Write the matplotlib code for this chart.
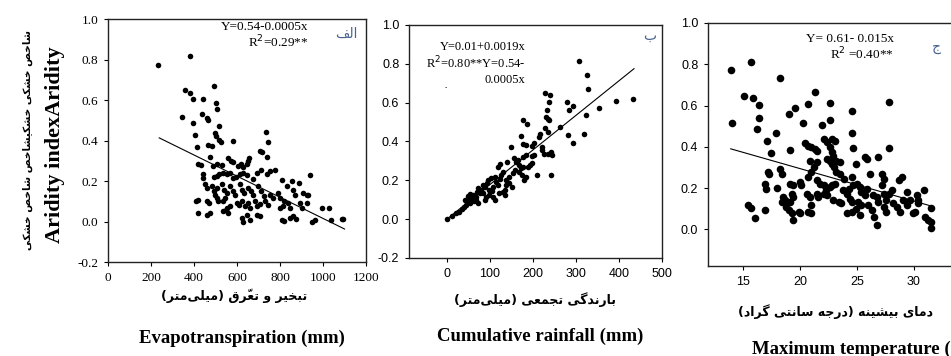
import matplotlib
matplotlib.use("Agg")
import matplotlib.pyplot as plt

# --- data ---
# panel الف : evapotranspiration (mm) vs aridity index
et_x = [234, 381, 358, 381, 397, 443, 343, 394, 436, 462, 467, 495, 504, 508, 496, 518, 403, 415,
        467, 482, 502, 518, 524, 583, 420, 431, 474, 490, 508, 530, 560, 570, 583, 606, 617, 626,
        653, 657, 645, 707, 715, 735, 746, 738, 443, 440, 493, 505, 518, 533, 552, 567, 583, 595,
        614, 626, 645, 673, 691, 710, 741, 753, 776, 808, 831, 854, 890, 450, 459, 482, 493, 505,
        529, 540, 552, 567, 580, 591, 614, 622, 634, 653, 664, 676, 699, 712, 726, 753, 769, 792,
        800, 818, 862, 870, 909, 924, 932, 409, 420, 459, 470, 498, 505, 513, 533, 544, 552, 567,
        598, 611, 622, 637, 653, 661, 684, 691, 707, 730, 746, 800, 812, 836, 847, 893, 901, 924,
        420, 459, 474, 536, 547, 560, 622, 626, 645, 661, 691, 707, 808, 818, 847, 862, 874, 947,
        963, 940, 994, 1029, 1036, 1088, 1093]
et_y = [.775, .817, .647, .637, .603, .605, .517, .488, .533, .513, .500, .667, .587, .558, .437, .472,
        .425, .370, .380, .375, .420, .403, .392, .397, .283, .278, .317, .275, .283, .280, .313, .300,
        .292, .275, .283, .267, .300, .313, .283, .350, .342, .442, .392, .320, .233, .217, .220, .225,
        .233, .242, .233, .242, .217, .220, .233, .242, .230, .208, .242, .253, .233, .250, .253, .203,
        .175, .200, .188, .183, .167, .175, .153, .167, .183, .158, .142, .175, .150, .133, .183, .158,
        .142, .167, .150, .133, .175, .150, .125, .133, .117, .142, .117, .100, .158, .133, .142, .133,
        .130, .100, .108, .100, .092, .133, .117, .100, .100, .117, .067, .075, .092, .083, .100, .075,
        .092, .067, .100, .075, .087, .100, .083, .067, .075, .092, .067, .092, .067, .092, .042, .033,
        .042, .050, .058, .042, .017, .000, .033, .008, .033, .025, .008, .003, .017, .025, .013, .000,
        .008, .228, .067, .067, .007, .012, .012]
et_line_x = [238, 1100]
et_line_y = [0.413, -0.037]

# panel ب : cumulative rainfall (mm) vs aridity index
rain_x = [0, 11, 21, 28, 34, 39, 45, 49, 42, 53, 57, 62, 61, 67, 70, 76, 72, 80, 84, 88, 93, 84, 92,
          98, 99, 105, 108, 95, 103, 111, 115, 118, 124, 49, 53, 68, 72, 88, 107, 113, 122, 130, 134,
          134, 138, 126, 130, 118, 124, 138, 144, 145, 152, 153, 159, 139, 149, 157, 161, 165, 168,
          172, 178, 180, 184, 168, 175, 188, 193, 199, 178, 184, 197, 203, 172, 176, 187, 177, 183,
          199, 203, 209, 215, 216, 220, 222, 226, 228, 240, 233, 237, 230, 234, 238, 228, 234, 236,
          242, 244, 242, 263, 280, 294, 282, 293, 283, 307, 326, 328, 324, 318, 353, 393, 433]
rain_y = [0, .017, .034, .039, .051, .065, .074, .091, .100, .082, .108, .091, .125, .116, .142, .133,
          .159, .150, .176, .168, .185, .133, .116, .125, .150, .147, .168, .200, .210, .219, .193, .176,
          .205, .117, .130, .100, .085, .100, .116, .100, .133, .142, .125, .150, .176, .228, .244, .270,
          .284, .200, .219, .185, .168, .236, .253, .296, .373, .313, .296, .304, .279, .262, .270, .200,
          .219, .245, .227, .270, .279, .287, .318, .330, .325, .330, .427, .513, .489, .386, .381, .376,
          .390, .227, .424, .440, .373, .356, .338, .650, .638, .560, .603, .527, .518, .510, .472, .450,
          .338, .347, .330, .227, .473, .605, .583, .432, .393, .560, .817, .740, .672, .535, .441, .574,
          .611, .617]
rain_line_x = [0, 435]
rain_line_y = [0.0, 0.775]

# panel ج : maximum temperature (°C) vs aridity index
tmax_x = [13.9, 14.0, 15.7, 15.1, 15.9, 16.4, 16.4, 16.2, 17.1, 17.4, 17.9, 18.2, 17.2, 17.3, 16.9, 17.0,
          16.9, 15.4, 15.7, 16.0, 18.2, 18.4, 18.0, 18.5, 18.7, 18.4, 18.8, 19.0, 19.3, 19.4, 19.1, 19.3,
          19.4, 19.0, 19.6, 19.1, 19.1, 19.4, 20.0, 20.1, 19.9, 20.0, 20.3, 20.7, 21.3, 20.4, 20.7, 21.0,
          21.3, 21.5, 21.9, 22.6, 22.6, 22.1, 22.4, 22.8, 23.1, 22.6, 22.8, 22.9, 22.4, 22.6, 23.2, 23.5,
          22.8, 23.0, 23.2, 23.5, 23.9, 24.9, 24.6, 24.6, 24.6, 24.7, 25.7, 25.9, 26.9, 27.8, 27.8, 27.2,
          27.4, 27.2, 26.2, 26.4, 26.8, 26.9, 27.4, 27.6, 26.8, 20.9, 21.2, 21.5, 20.7, 21.0, 21.5, 21.8,
          22.1, 22.3, 20.6, 20.9, 21.0, 21.0, 20.7, 21.5, 21.6, 22.1, 22.4, 22.9, 23.4, 23.6, 22.6, 22.8,
          23.1, 23.8, 24.1, 24.3, 24.4, 24.6, 24.7, 25.0, 25.3, 25.4, 25.7, 25.9, 25.1, 25.4, 24.1, 24.6,
          24.9, 25.3, 26.0, 26.3, 26.5, 27.4, 27.6, 27.8, 28.1, 28.7, 29.0, 28.2, 28.5, 28.8, 29.1, 29.4,
          29.7, 29.4, 29.9, 30.1, 30.3, 30.4, 30.9, 31.0, 31.3, 31.5, 31.5, 31.5, 30.4]
tmax_y = [.773, .517, .813, .645, .634, .602, .538, .485, .426, .368, .469, .733, .277, .269, .221, .197,
          .093, .117, .101, .053, .293, .269, .200, .157, .141, .133, .109, .093, .173, .157, .133, .077,
          .045, .557, .586, .386, .221, .213, .229, .213, .085, .077, .517, .605, .666, .416, .405, .397,
          .389, .381, .506, .613, .528, .437, .421, .437, .429, .397, .373, .357, .341, .333, .333, .325,
          .317, .301, .277, .266, .245, .317, .253, .573, .469, .394, .349, .341, .349, .618, .392, .269,
          .245, .213, .269, .165, .157, .133, .173, .141, .021, .333, .301, .325, .253, .277, .237, .221,
          .213, .189, .173, .157, .117, .077, .085, .173, .157, .173, .165, .141, .133, .125, .205, .213,
          .221, .189, .173, .197, .149, .133, .213, .221, .205, .181, .165, .197, .133, .117, .077, .085,
          .096, .069, .117, .093, .061, .109, .085, .173, .189, .237, .253, .128, .109, .085, .141, .117,
          .141, .181, .077, .085, .165, .141, .192, .061, .045, .101, .037, .005, .128]
tmax_line_x = [13.9, 31.4]
tmax_line_y = [0.39, 0.115]

# --- minimal Persian shaping (matplotlib has no complex text layout) ---
FORMS = {
    'ا': ('\uFE8D', '\uFE8E'), 'ب': ('\uFE8F', '\uFE90', '\uFE91', '\uFE92'),
    'ت': ('\uFE95', '\uFE96', '\uFE97', '\uFE98'), 'ج': ('\uFE9D', '\uFE9E', '\uFE9F', '\uFEA0'),
    'خ': ('\uFEA5', '\uFEA6', '\uFEA7', '\uFEA8'), 'د': ('\uFEA9', '\uFEAA'),
    'ر': ('\uFEAD', '\uFEAE'), 'س': ('\uFEB1', '\uFEB2', '\uFEB3', '\uFEB4'),
    'ش': ('\uFEB5', '\uFEB6', '\uFEB7', '\uFEB8'), 'ص': ('\uFEB9', '\uFEBA', '\uFEBB', '\uFEBC'),
    'ع': ('\uFEC9', '\uFECA', '\uFECB', '\uFECC'), 'ف': ('\uFED1', '\uFED2', '\uFED3', '\uFED4'),
    'ق': ('\uFED5', '\uFED6', '\uFED7', '\uFED8'), 'ل': ('\uFEDD', '\uFEDE', '\uFEDF', '\uFEE0'),
    'م': ('\uFEE1', '\uFEE2', '\uFEE3', '\uFEE4'), 'ن': ('\uFEE5', '\uFEE6', '\uFEE7', '\uFEE8'),
    'ه': ('\uFEE9', '\uFEEA', '\uFEEB', '\uFEEC'), 'و': ('\uFEED', '\uFEEE'),
    'ی': ('\uFBFC', '\uFBFD', '\uFBFE', '\uFBFF'), 'ک': ('\uFB8E', '\uFB8F', '\uFB90', '\uFB91'),
    'گ': ('\uFB92', '\uFB93', '\uFB94', '\uFB95'),
}
SHADDA = '\u0651'


def fa(text):
    chars = list(text)

    def neighbour(i, step):
        j = i + step
        while 0 <= j < len(chars) and chars[j] == SHADDA:
            j += step
        return chars[j] if 0 <= j < len(chars) else None

    out = []
    for i, c in enumerate(chars):
        if c in FORMS:
            p, n = neighbour(i, -1), neighbour(i, 1)
            jp = p in FORMS and len(FORMS[p]) == 4
            jn = len(FORMS[c]) == 4 and n in FORMS
            f = FORMS[c]
            out.append(f[3] if jp and jn else f[1] if jp else f[2] if jn else f[0])
        elif c == '\u200c':
            continue
        elif c == SHADDA:
            out[-1] += c
        else:
            out.append({'(': ')', ')': '('}.get(c, c))
    return ''.join(reversed(out))


SERIF = 'Liberation Serif'
SANS = 'Liberation Sans'
FA_FONT = ['DejaVu Sans']
LETTER_C = '#4a6490'

fig = plt.figure(figsize=(9.51, 3.56), dpi=100)


def style(ax, tickfont, size):
    for s in ax.spines.values():
        s.set_linewidth(1.0)
        s.set_color('#222222')
    ax.tick_params(direction='out', length=3, width=0.8, pad=4)
    for lab in ax.get_xticklabels() + ax.get_yticklabels():
        lab.set_fontfamily(tickfont)
        lab.set_fontsize(size)


# panel 1
ax1 = fig.add_axes([0.1136, 0.264, 0.2713, 0.6826])
ax1.scatter(et_x, et_y, s=16, color='black', linewidths=0)
ax1.plot(et_line_x, et_line_y, color='black', lw=0.8)
ax1.set_xlim(0, 1200)
ax1.set_ylim(-0.2, 1.0)
ax1.set_xticks([0, 200, 400, 600, 800, 1000, 1200])
ax1.set_yticks([-0.2, 0.0, 0.2, 0.4, 0.6, 0.8, 1.0])
ax1.yaxis.set_major_formatter(matplotlib.ticker.FormatStrFormatter('%.1f'))
style(ax1, SERIF, 9.5)
ax1.text(0.775, 0.93, 'Y=0.54-0.0005x\nR$^2$=0.29**', transform=ax1.transAxes, ha='right',
         va='center', family=SERIF, fontsize=9.5, linespacing=1.05)
ax1.text(0.925, 0.94, fa('الف'), transform=ax1.transAxes, ha='center', va='center',
         family=FA_FONT, fontsize=10, color=LETTER_C)

# panel 2
ax2 = fig.add_axes([0.4301, 0.2753, 0.2660, 0.6545])
ax2.scatter(rain_x, rain_y, s=16, color='black', linewidths=0)
ax2.plot(rain_line_x, rain_line_y, color='black', lw=0.8)
ax2.set_xlim(-88, 500)
ax2.set_ylim(-0.2, 1.0)
ax2.set_xticks([0, 100, 200, 300, 400, 500])
ax2.set_yticks([-0.2, 0.0, 0.2, 0.4, 0.6, 0.8, 1.0])
ax2.yaxis.set_major_formatter(matplotlib.ticker.FormatStrFormatter('%.1f'))
style(ax2, SANS, 9)
for k, line in enumerate(['Y=0.01+0.0019x', 'R$^2$=0.80**Y=0.54-', '0.0005x']):
    ax2.text(0.46, 0.905 - k * 0.07, line, transform=ax2.transAxes, ha='right', va='center',
             family=SERIF, fontsize=9)
ax2.text(-2, 0.675, '-', family=SANS, fontsize=5, ha='center', va='center')
ax2.text(0.95, 0.955, fa('ب'), transform=ax2.transAxes, ha='center', va='center',
         family=FA_FONT, fontsize=10, color=LETTER_C)

# panel 3 (runs past the right edge of the picture, as in the source)
ax3 = fig.add_axes([0.7445, 0.2528, 0.264, 0.6826])
ax3.scatter(tmax_x, tmax_y, s=30, color='black', linewidths=0)
ax3.plot(tmax_line_x, tmax_line_y, color='black', lw=0.8)
ax3.set_xlim(11.9, 34.0)
ax3.set_ylim(-0.178, 1.0)
ax3.set_xticks([15, 20, 25, 30])
ax3.set_yticks([0.0, 0.2, 0.4, 0.6, 0.8, 1.0])
ax3.yaxis.set_major_formatter(matplotlib.ticker.FormatStrFormatter('%.1f'))
style(ax3, SANS, 9)
ax3.spines['right'].set_visible(False)
ax3.text(0.74, 0.90, 'Y= 0.61- 0.015x\nR$^2$ =0.40**', transform=ax3.transAxes, ha='right',
         va='center', family=SERIF, fontsize=9.5, linespacing=1.05)
ax3.text(0.91, 0.90, fa('ج'), transform=ax3.transAxes, ha='center', va='center',
         family=FA_FONT, fontsize=10, color=LETTER_C)

# axis captions (Persian + English)
fig.text(234 / 951, 1 - 296 / 356, fa('تبخیر و تعرّق (میلی\u200cمتر)'), ha='center', va='center',
         family=FA_FONT, fontsize=9, fontweight='bold')
fig.text(535 / 951, 1 - 300 / 356, fa('بارندگی تجمعی (میلی\u200cمتر)'), ha='center', va='center',
         family=FA_FONT, fontsize=9, fontweight='bold')
fig.text(835 / 951, 1 - 312 / 356, fa('دمای بیشینه (درجه سانتی گراد)'), ha='center', va='center',
         family=FA_FONT, fontsize=9, fontweight='bold')

fig.text(242 / 951, 1 - 338 / 356, 'Evapotranspiration (mm)', ha='center', va='center',
         family=SERIF, fontsize=13.5, fontweight='bold')
fig.text(540 / 951, 1 - 336 / 356, 'Cumulative rainfall (mm)', ha='center', va='center',
         family=SERIF, fontsize=13.5, fontweight='bold')
fig.text(752 / 951, 1 - 349 / 356, 'Maximum temperature (°C)', ha='left', va='center',
         family=SERIF, fontsize=13.5, fontweight='bold')

fig.text(55 / 951, 1 - 145 / 356, 'Aridity indexAridity', ha='center', va='center', rotation=90,
         family=SERIF, fontsize=16, fontweight='bold')
fig.text(28 / 951, 1 - 140 / 356, fa('شاخص خشکی خشکیشاخص شاخص خشکی'), ha='center', va='center',
         rotation=90, family=FA_FONT, fontsize=7.5, fontweight='bold')

fig.savefig('out.png', dpi=100)
